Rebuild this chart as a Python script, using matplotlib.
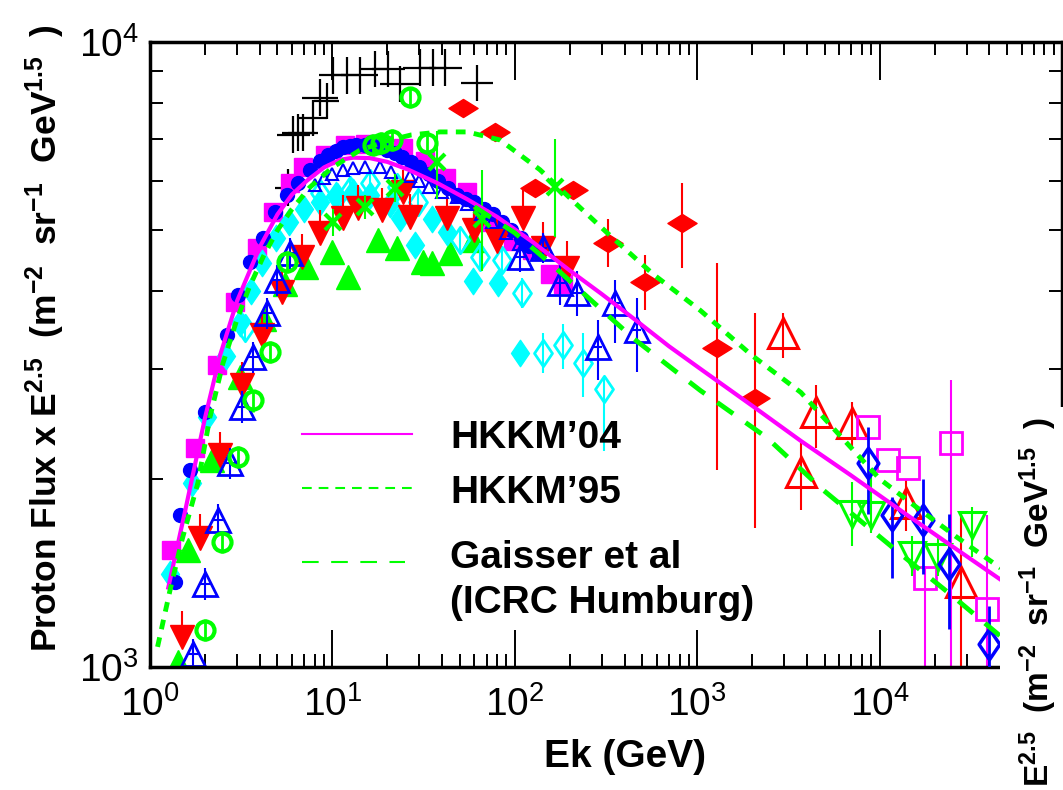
import numpy as np
import matplotlib.pyplot as plt
from matplotlib.path import Path
from matplotlib.patches import Rectangle
from matplotlib.ticker import FixedLocator, FixedFormatter, LogLocator, NullFormatter

plt.rcParams['font.family'] = ['Liberation Sans', 'DejaVu Sans']
plt.rcParams['mathtext.fontset'] = 'custom'
plt.rcParams['mathtext.rm'] = 'Liberation Sans'
plt.rcParams['mathtext.bf'] = 'Liberation Sans:bold'
plt.rcParams['mathtext.it'] = 'Liberation Sans:italic'
plt.rcParams['lines.scale_dashes'] = False

# --- model curves: E (GeV), flux x E^2.5 ---
hkkm04_E = [1.26, 1.56, 2.0, 2.42, 3.0, 4.0, 5.0, 6.0, 7.25, 9.0, 11.0, 13.0,
            16.0, 20.0, 26.0, 37.5, 55.0, 80.0, 126, 200, 300, 465, 700,
            1040, 1580, 2070, 3700, 6900, 1.5e4, 2.5e4, 4.6e4]
hkkm04_F = [1340, 1780, 2500, 3150, 3850, 4700, 5300, 5700, 6000, 6300, 6480,
            6530, 6520, 6430, 6250, 5950, 5600, 5250, 4780, 4310, 3950, 3580,
            3260, 3000, 2750, 2600, 2300, 2030, 1730, 1560, 1380]

hkkm95_E = [1.1, 1.29, 1.5, 1.83, 2.13, 2.51, 3.0, 3.5, 4.2, 5.0, 6.0, 7.5,
            10, 14, 20, 27, 39, 55, 83, 137, 218, 321, 574, 1040, 2000, 3700,
            5500, 1.0e4, 1.6e4, 2.6e4, 4.6e4]
hkkm95_F = [1077, 1330, 1600, 1970, 2510, 3060, 3600, 4050, 4550, 5000, 5400,
            5850, 6300, 6700, 6950, 7100, 7180, 7180, 6970, 6250, 5500, 4950,
            4250, 3720, 3150, 2750, 2420, 2000, 1800, 1620, 1440]

gaisser_E = [60, 100, 160, 260, 450, 875, 1040, 2400, 4900, 1.29e4, 2.5e4, 4.6e4]
gaisser_F = [5450, 4950, 4400, 3870, 3350, 2880, 2770, 2330, 1920, 1520, 1300, 1120]

# --- measurements ---
# black crosses (x and y error bars only)
cross_E = [5.7, 6.1, 6.5, 6.9, 7.8, 8.55, 9.3, 10.1, 12.0, 14.1, 17.1, 20.2,
           23.5, 30.1, 35.5, 41.5, 62]
cross_F = [5850, 7110, 7160, 7160, 7560, 8140, 8050, 8840, 8840, 8840, 9050,
           9050, 8560, 9100, 9100, 9100, 8600]
cross_dx = [0.07, 0.09, 0.09, 0.08, 0.08, 0.1, 0.07, 0.08, 0.08, 0.1, 0.08,
            0.09, 0.11, 0.09, 0.08, 0.09, 0.09]

sq_E = [1.31, 1.77, 2.33, 2.93, 3.86, 4.72, 5.85, 6.9, 9.1, 11.7, 15, 19,
        24.5, 32, 42, 55, 66, 80, 98, 125, 156, 184]
sq_F = [1540, 2240, 3040, 3840, 4680, 5350, 5950, 6300, 6600, 6840, 6880,
        6840, 6770, 6450, 6050, 5750, 5150, 5100, 4800, 4650, 4250, 4100]

dot_E = [1.37, 1.46, 1.66, 2.0, 2.64, 3.04, 3.53, 4.16, 4.84, 5.63, 6.5, 7.5,
         8.5, 9.5, 10.5, 11.5, 12.5, 13.5, 15, 16.5, 18, 20, 22, 24, 27, 30,
         34, 38, 43, 48, 54, 60, 68, 76, 85, 95, 108, 120, 135]
dot_F = [1370, 1750, 2070, 2560, 3400, 3940, 4450, 4860, 5350, 5690, 5950,
         6250, 6450, 6600, 6700, 6780, 6820, 6850, 6850, 6830, 6800, 6720,
         6650, 6550, 6420, 6300, 6150, 6000, 5850, 5700, 5600, 5550, 5400,
         5300, 5150, 5000, 4850, 4720, 4600]

cyd_E = [1.29, 1.7, 2.05, 2.6, 3.1, 3.6, 4.1, 4.9, 5.8, 7.0, 8.5, 10.5, 13,
         16, 20.7, 23.4, 28.3, 35, 42.5, 59, 80.6, 107]
cyd_F = [1410, 1970, 2510, 3150, 3550, 4000, 4430, 4850, 5150, 5400, 5550,
         5700, 5750, 5700, 5500, 5230, 4730, 5200, 4970, 4140, 4120, 3180]

cyo_E = [3.32, 8.55, 10.6, 12.5, 16, 22.6, 29.4, 50, 64.5, 85, 110, 142, 184,
         237, 310]
cyo_F = [3490, 5730, 5650, 5800, 5940, 5870, 5550, 4820, 4530, 4480, 3970,
         3180, 3270, 3060, 2780]
cyo_lo = [3350, 5500, 5420, 5560, 5700, 5630, 5330, 4600, 4300, 4250, 3750,
          2950, 3000, 2700, 2220]
cyo_hi = [3640, 5960, 5880, 6040, 6180, 6110, 5770, 5040, 4760, 4710, 4190,
          3420, 3540, 3420, 2910]

rtd_E = [1.5, 1.88, 2.42, 3.19, 4.1, 5.3, 6.8, 8.6, 11.4, 13.8, 18.7, 24.4,
         26.6, 42.5, 60, 80, 111, 142, 193]
rtd_F = [1117, 1610, 2180, 2830, 3400, 3980, 4530, 4950, 5230, 5420, 5380,
         5750, 5250, 5230, 5000, 4800, 5230, 4680, 4350]
rtd_hi = [1230, 1760, 2380, 3080, 3700, 4330, 4930, 5380, 5690, 5900, 5850,
          6250, 5720, 5700, 5450, 5250, 5800, 5150, 4800]

gtu_E = [1.42, 1.62, 2.19, 3.1, 4.2, 5.5, 7.2, 9.9, 12.2, 17.8, 22.6, 31.4,
         35, 44, 59]
gtu_F = [1020, 1540, 2140, 2910, 3600, 4100, 4370, 4620, 4210, 4820, 4690,
         4450, 4430, 4590, 4820]

bto_E = [1.72, 2.0, 2.36, 2.75, 3.19, 3.67, 4.38, 4.97, 5.85, 107, 142, 177,
         220, 285, 355, 465]
bto_F = [1050, 1360, 1720, 2120, 2610, 3130, 3690, 4160, 4600, 4530, 4690,
         4120, 3970, 3250, 3820, 3460]
bto_lo = [990, 1280, 1620, 2000, 2460, 2950, 3480, 3920, 4340, 4280, 4430,
          3800, 3650, 2880, 3300, 2960]
bto_hi = [1110, 1440, 1820, 2240, 2760, 3310, 3900, 4400, 4860, 4780, 4950,
          4450, 4300, 3590, 4160, 3900]

bts_E = [8, 9, 10, 11.4, 13, 15, 18.2, 21, 26.6, 30, 34, 40, 48, 55, 65, 75,
         90, 105]
bts_F = [5900, 6050, 6150, 6240, 6280, 6300, 6300, 6200, 6100, 6000, 5870,
         5750, 5650, 5500, 5300, 5150, 4950, 4750]

gco_E = [2.0, 2.48, 3.04, 3.67, 4.55, 5.63, 16.6, 18.5, 21.2, 26.6, 33]
gco_F = [1146, 1585, 2170, 2670, 3190, 4450, 6840, 6900, 6970, 8160, 6900]

gx_E = [10.1, 15.1, 22.1, 37.5, 66, 166]
gx_F = [5150, 5450, 5840, 6430, 5200, 5870]
gx_lo = [4900, 5200, 5550, 5600, 4300, 4870]
gx_hi = [5400, 5700, 6150, 7200, 6250, 7000]

rdi_E = [52, 78, 129, 208, 325, 516, 829, 1283, 2070]
rdi_F = [7850, 7180, 5840, 5800, 4770, 4130, 5130, 3240, 2690]
rdi_lo = [7850, 7180, 5840, 5800, 4370, 3720, 4350, 2070, 1670]
rdi_hi = [7850, 7180, 5840, 5800, 5200, 4560, 5950, 4430, 3690]

rto_E = [2950, 3700, 4500, 7100, 1.4e4, 2.8e4]
rto_F = [3420, 2050, 2560, 2460, 1830, 1370]
rto_lo = [3120, 1780, 2240, 2250, 1650, 900]
rto_hi = [3690, 2280, 2830, 2650, 2000, 1760]

mso_E = [8600, 1.11e4, 1.44e4, 1.77e4, 2.45e4, 3.9e4]
mso_F = [2420, 2140, 2080, 1390, 2280, 1240]
mso_lo = [2420, 2140, 2080, 900, 900, 900]
mso_hi = [2420, 2140, 2080, 1450, 2880, 1750]

bdo_E = [8600, 1.17e4, 1.73e4, 2.4e4, 4.0e4]
bdo_F = [2120, 1750, 1720, 1460, 1090]
bdo_lo = [1760, 1390, 1410, 1150, 990]
bdo_hi = [2420, 1870, 2000, 1760, 1250]

gtd_E = [7100, 9000, 1.5e4, 2.1e4, 3.2e4]
gtd_F = [1760, 1750, 1510, 1500, 1690]
gtd_lo = [1560, 1640, 1400, 1400, 1500]
gtd_hi = [1980, 2070, 1620, 1610, 1800]

x_major = [1, 10, 100, 1e3, 1e4, 1e5]
x_labels = [r'$\mathregular{10^{0}}$', r'$\mathregular{10^{1}}$',
            r'$\mathregular{10^{2}}$', r'$\mathregular{10^{3}}$',
            r'$\mathregular{10^{4}}$', '']
y_major = [1e3, 1e4]
y_labels = [r'$\mathregular{10^{3}}$', r'$\mathregular{10^{4}}$']

# marker shapes
tall_diamond = Path([(0, 1), (0.68, 0), (0, -1), (-0.68, 0), (0, 1)],
                    [Path.MOVETO, Path.LINETO, Path.LINETO, Path.LINETO,
                     Path.CLOSEPOLY])
wide_diamond = Path([(-1, 0), (0, 0.62), (1, 0), (0, -0.62), (-1, 0)],
                    [Path.MOVETO, Path.LINETO, Path.LINETO, Path.LINETO,
                     Path.CLOSEPOLY])


def yerr_of(F, lo, hi):
    F = np.asarray(F, dtype=float)
    return [F - np.asarray(lo, dtype=float), np.asarray(hi, dtype=float) - F]


fig = plt.figure(figsize=(10.63, 7.90), dpi=100)
ax = fig.add_axes([150 / 1063, 123 / 790, 912 / 1063, 625 / 790])
ax.set_xscale('log')
ax.set_yscale('log')
ax.set_xlim(1, 1e5)
ax.set_ylim(1e3, 1e4)

# --- data points ---
ax.errorbar(cross_E, cross_F,
            xerr=[np.array(cross_E) * (1 - 10 ** -np.array(cross_dx)),
                  np.array(cross_E) * (10 ** np.array(cross_dx) - 1)],
            yerr=[np.array(cross_F) * 0.065, np.array(cross_F) * 0.07],
            fmt='none', ecolor='black', elinewidth=1.6, zorder=2)

ax.plot(sq_E, sq_F, 's', color='#ff00ff', ms=13, mec='#ff00ff', zorder=2)
ax.plot(dot_E, dot_F, 'o', color='#0000ff', ms=10, zorder=2.2)
ax.plot(cyd_E, cyd_F, marker=tall_diamond, ls='none', color='#00ffff',
        ms=19, zorder=2.1)
ax.errorbar(cyo_E, cyo_F, yerr=yerr_of(cyo_F, cyo_lo, cyo_hi), fmt='none',
            ecolor='#00ffff', elinewidth=1.5, zorder=2.1)
ax.plot(cyo_E, cyo_F, marker=tall_diamond, ls='none', mfc='none',
        mec='#00ffff', mew=2, ms=19, zorder=2.1)
ax.errorbar(rtd_E, rtd_F, yerr=yerr_of(rtd_F, rtd_F, rtd_hi), fmt='none',
            ecolor='#ff0000', elinewidth=1.5, zorder=2.3)
ax.plot(rtd_E, rtd_F, 'v', color='#ff0000', ms=17, zorder=2.3)
ax.plot(gtu_E, gtu_F, '^', color='#00ff00', ms=17, zorder=2.0)
ax.errorbar(bto_E, bto_F, yerr=yerr_of(bto_F, bto_lo, bto_hi),
            xerr=[np.array(bto_E) * 0.06, np.array(bto_E) * 0.06],
            fmt='none', ecolor='#0000ff', elinewidth=1.5, zorder=2.4)
ax.plot(bto_E, bto_F, '^', mfc='none', mec='#0000ff', mew=2, ms=17,
        zorder=2.4)
ax.plot(bts_E, bts_F, '^', mfc='none', mec='#0000ff', mew=1.5, ms=8,
        zorder=2.4)
ax.errorbar(gco_E, gco_F, yerr=[np.array(gco_F) * 0.04, np.array(gco_F) * 0.04],
            fmt='none', ecolor='#00ff00', elinewidth=2, zorder=2.5)
ax.plot(gco_E, gco_F, 'o', mfc='none', mec='#00ff00', mew=3, ms=13,
        zorder=2.5)
ax.errorbar(gx_E, gx_F, yerr=yerr_of(gx_F, gx_lo, gx_hi), fmt='x',
            color='#00ff00', ms=12, mew=3, elinewidth=1.5, zorder=2.5)

ax.errorbar(rdi_E, rdi_F, yerr=yerr_of(rdi_F, rdi_lo, rdi_hi), fmt='none',
            ecolor='#ff0000', elinewidth=1.5, zorder=2.5)
ax.plot(rdi_E, rdi_F, marker=wide_diamond, ls='none', color='#ff0000',
        ms=21, zorder=2.5)
ax.errorbar(rto_E, rto_F, yerr=yerr_of(rto_F, rto_lo, rto_hi), fmt='none',
            ecolor='#ff0000', elinewidth=1.5, zorder=2.5)
ax.plot(rto_E, rto_F, '^', mfc='none', mec='#ff0000', mew=2.2, ms=21,
        zorder=2.5)
ax.errorbar(mso_E, mso_F, yerr=yerr_of(mso_F, mso_lo, mso_hi), fmt='none',
            ecolor='#ff00ff', elinewidth=1.5, zorder=2.5)
ax.plot(mso_E, mso_F, 's', mfc='none', mec='#ff00ff', mew=2, ms=16,
        zorder=2.5)
ax.errorbar(bdo_E, bdo_F, yerr=yerr_of(bdo_F, bdo_lo, bdo_hi), fmt='none',
            ecolor='#0000ff', elinewidth=2, zorder=2.6)
ax.plot(bdo_E, bdo_F, marker=tall_diamond, ls='none', mfc='none',
        mec='#0000ff', mew=2.5, ms=22, zorder=2.6)
ax.errorbar(gtd_E, gtd_F, yerr=yerr_of(gtd_F, gtd_lo, gtd_hi), fmt='none',
            ecolor='#00ff00', elinewidth=1.5, zorder=2.5)
ax.plot(gtd_E, gtd_F, 'v', mfc='none', mec='#00ff00', mew=2.2, ms=19,
        zorder=2.5)

# --- model curves ---
ax.plot(hkkm04_E, hkkm04_F, '-', color='#ff00ff', lw=3, zorder=5)
ax.plot(hkkm95_E, hkkm95_F, color='#00ff00', lw=3.5, dashes=(7, 6), zorder=5)
ax.plot(gaisser_E, gaisser_F, color='#00ff00', lw=3.5, dashes=(14, 11),
        zorder=5)

# legend drawn by hand
ax.plot([0.1667, 0.2873], [0.3728, 0.3728], '-', color='#ff00ff', lw=1.5,
        transform=ax.transAxes, zorder=6)
ax.plot([0.1667, 0.2873], [0.2864, 0.2864], color='#00ff00', lw=1.5,
        dashes=(7, 5), transform=ax.transAxes, zorder=6)
ax.plot([0.1667, 0.2796], [0.1680, 0.1680], color='#00ff00', lw=1.5,
        dashes=(12, 9), transform=ax.transAxes, zorder=6)
legend_kw = dict(transform=ax.transAxes, fontsize=28, fontweight='bold',
                 ha='left', va='center', zorder=6)
ax.text(0.329, 0.3664, 'HKKM’04', **legend_kw)
ax.text(0.329, 0.2784, 'HKKM’95', **legend_kw)
ax.text(0.329, 0.1744, 'Gaisser et al', **legend_kw)
ax.text(0.329, 0.1024, '(ICRC Humburg)', **legend_kw)

# --- axes styling ---
for sp in ax.spines.values():
    sp.set_linewidth(2.5)
ax.xaxis.set_major_locator(FixedLocator(x_major))
ax.xaxis.set_major_formatter(FixedFormatter(x_labels))
ax.xaxis.set_minor_locator(LogLocator(base=10, subs=range(2, 10), numticks=20))
ax.xaxis.set_minor_formatter(NullFormatter())
ax.yaxis.set_major_locator(FixedLocator(y_major))
ax.yaxis.set_major_formatter(FixedFormatter(y_labels))
ax.yaxis.set_minor_locator(LogLocator(base=10, subs=range(2, 10), numticks=20))
ax.yaxis.set_minor_formatter(NullFormatter())
ax.tick_params(which='both', direction='in', top=True, right=True,
               width=1.4, labelsize=28)
ax.tick_params(which='major', length=27)
ax.tick_params(which='minor', length=9.5)
ax.tick_params(axis='x', pad=14)
ax.tick_params(axis='y', pad=8)

fig.text(625 / 1063, 1 - 757 / 790, 'Ek (GeV)', fontsize=28,
         fontweight='bold', ha='center', va='center')
fig.text(45 / 1063, 1 - 338 / 790,
         r'Proton Flux x E$^{\mathbf{2.5}}$  (m$^{\mathbf{-2}}$  '
         r'sr$^{\mathbf{-1}}$  GeV$^{\mathbf{1.5}}$  )',
         fontsize=25.5, fontweight='bold', rotation=90, ha='center',
         va='center')

# neighbouring panel's label over the lower right corner
fig.patches.append(Rectangle((1000 / 1063, 0), 63 / 1063, 1 - 407 / 790,
                             transform=fig.transFigure, facecolor='white',
                             edgecolor='none', zorder=10))
fig.text(1038 / 1063, 0.004,
         r'E$^{\mathbf{2.5}}$  (m$^{\mathbf{-2}}$  sr$^{\mathbf{-1}}$  '
         r'GeV$^{\mathbf{1.5}}$  )',
         fontsize=24, fontweight='bold', rotation=90, ha='center',
         va='bottom', zorder=11)

fig.savefig('out.png', dpi=100, facecolor='white')
